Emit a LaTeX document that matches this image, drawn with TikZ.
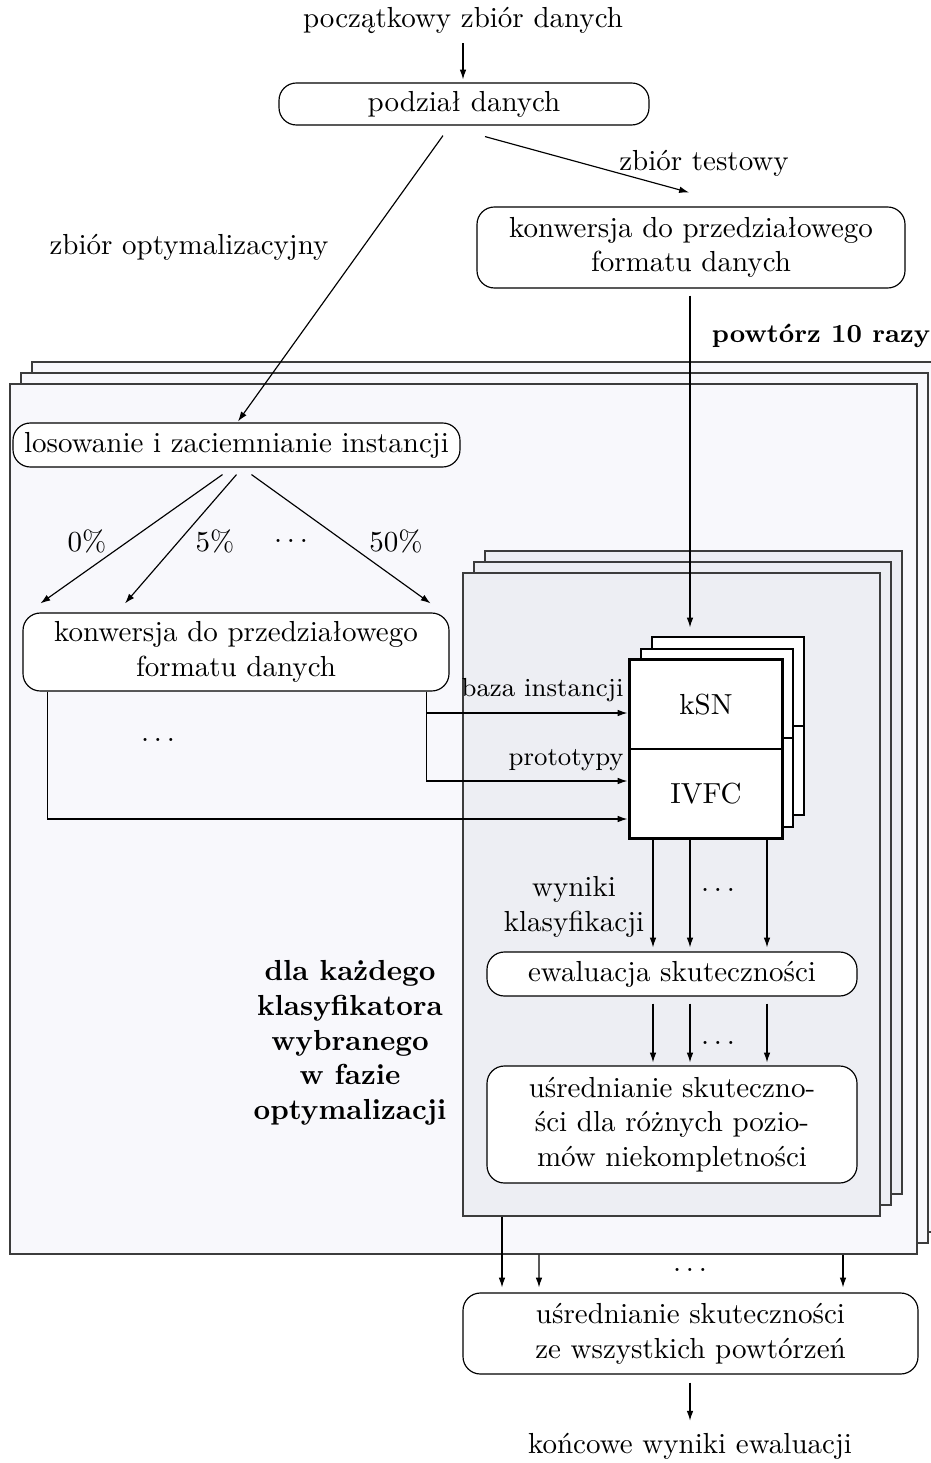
\documentclass[tikz,border=0pt]{standalone}
\usepackage{fontspec}
\usetikzlibrary{arrows.meta,calc}
\definecolor{outerfill}{RGB}{248,248,252}
\definecolor{innerfill}{RGB}{237,238,243}
\definecolor{framedraw}{RGB}{60,60,60}
\def\pxu{0.3448pt}
\begin{document}
\begin{tikzpicture}[x=0.3448pt,y=-0.3448pt,
  arr/.style={-{Latex[length=3.4pt,width=2.3pt]}, line width=0.4pt},
  rbox/.style={draw, rounded corners=6pt, fill=white, align=center, inner sep=1pt, line width=0.4pt},
  sz/.style 2 args={minimum width=#1*\pxu, minimum height=#2*\pxu},
  oframe/.style={draw=framedraw, fill=outerfill, line width=0.5pt, inner sep=0pt},
  iframe/.style={draw=framedraw, fill=innerfill, line width=0.5pt, inner sep=0pt},
  clfbox/.style={draw, fill=white, inner sep=0pt, line width=0.4pt},
  clfback/.style={draw, fill=white, inner sep=0pt, line width=0.8pt},
]
\useasboundingbox (0,0) rectangle (931,1463);

% outer frames (repeat 10 times)
\node[oframe, sz={907}{870}] (oback) at (485.5,797) {};
\node[oframe, sz={907}{870}] (omid) at (474.5,808) {};
\node[oframe, sz={907}{870}] (outer) at (463.5,819) {};

% inner frames (for each classifier)
\node[iframe, sz={417}{643}] (iback) at (693.5,872.5) {};
\node[iframe, sz={417}{643}] (imid) at (682.5,883.5) {};
\node[iframe, sz={417}{643}] (inner) at (671.5,894.5) {};

% classifier stack
\node[clfback, sz={152}{178}] (cback) at (728,726) {};
\draw[line width=0.4pt] (cback.west) -- (cback.east);
\node[clfback, sz={152}{178}] (cmid) at (717,738) {};
\draw[line width=0.4pt] (cmid.west) -- (cmid.east);
\node[clfbox, sz={152}{89}] (ksn) at (706,704.5) {kSN};
\node[clfbox, sz={152}{89}] (ivfc) at (706,793.5) {IVFC};
\draw[line width=0.8pt] (ksn.north west) rectangle (ivfc.south east);

% main nodes
\node (start) at (463,20) {początkowy zbiór danych};
\node[rbox, sz={370}{42}] (split) at (464,104) {podział danych};
\node[rbox, sz={428}{81}] (conv1) at (691,247.5) {konwersja do przedziałowego\\formatu danych};
\node[rbox, sz={447}{44}] (los) at (236.5,445) {losowanie i zaciemnianie instancji};
\node[rbox, sz={426}{78}] (conv2) at (236,652) {konwersja do przedziałowego\\formatu danych};
\node[rbox, sz={370}{44}] (eval) at (672,974) {ewaluacja skuteczności};
\node[rbox, sz={370}{117}] (avg) at (672,1124.5) {uśrednianie skuteczno-\\ści dla różnych pozio-\\mów niekompletności};
\node[rbox, sz={455}{81}] (final) at (690.5,1333.5) {uśrednianie skuteczności\\ze wszystkich powtórzeń};
\node (end) at (690,1446) {końcowe wyniki ewaluacji};

% labels
\node (lopt) at (189,247) {zbiór optymalizacyjny};
\node (ltest) at (704,163) {zbiór testowy};
\node[font=\small\bfseries] (lrep) at (821,336) {powtórz 10 razy};
\node (l0) at (87,541) {0\%};
\node (l5) at (215,541) {5\%};
\node (ld1) at (291,541) {$\ldots$};
\node (l50) at (396,541) {50\%};
\node (ld2) at (158,740) {$\ldots$};
\node[font=\small, anchor=east, inner sep=1pt] (lbaza) at (627,690) {baza instancji};
\node[font=\small, anchor=east, inner sep=1pt] (lproto) at (627,760) {prototypy};
\node[align=center] (lwyn) at (574,907) {wyniki\\klasyfikacji};
\node (ld3) at (718,890) {$\ldots$};
\node (ld4) at (718,1043) {$\ldots$};
\node (ld5) at (690,1270) {$\ldots$};
\node[align=center, font=\bfseries] (lfor) at (350,1043) {dla każdego\\klasyfikatora\\wybranego\\w fazie\\optymalizacji};

% connectors
\draw[arr] (start.south) -- ($(split.north)+(-1,-3)$);
\draw[arr] ($(split.south)+(-21,10)$) -- ($(los.north)+(1.5,-1)$);
\draw[arr] ($(split.south)+(21,11)$) -- ($(conv1.north)+(-2,-14)$);
\draw[arr] ($(conv1.south)+(-1,7)$) -- ($(ksn.north)+(-16,-32)$);

\draw[arr] ($(los.south)+(-14,7)$) -- ($(conv2.north west)+(18,-9)$);
\draw[arr] ($(los.south)+(0,7)$) -- ($(conv2.north)+(-111,-9)$);
\draw[arr] ($(los.south)+(15,7)$) -- ($(conv2.north east)+(-19,-9)$);

\draw[arr] ($(conv2.south east)+(-23,0)$) |- ($(ivfc.west)+(-2,-12.5)$);
\draw[arr] ($(conv2.south east)+(-23,0)$) |- ($(ksn.west)+(-2,8.5)$);
\draw[arr] ($(conv2.south west)+(25,0)$) |- ($(ivfc.west)+(-2,25.5)$);

\foreach \dx/\ex in {-53/-19, -16/18, 61/95}
  \draw[arr] ($(ivfc.south)+(\dx,0)$) -- ($(eval.north)+(\ex,-4)$);
\foreach \dx in {-19,18,95}
  \draw[arr] ($(eval.south)+(\dx,7)$) -- ($(avg.north)+(\dx,-3)$);

\draw[arr] ($(inner.south)+(-169.5,0)$) -- ($(final.north)+(-188.5,-5)$);
\draw[arr] ($(outer.south)+(75.5,0)$) -- ($(final.north)+(-151.5,-5)$);
\draw[arr] ($(outer.south)+(379.5,0)$) -- ($(final.north)+(152.5,-5)$);
\draw[arr] ($(final.south)+(-0.5,8)$) -- ($(end.north)+(0,-2)$);
\end{tikzpicture}
\end{document}
